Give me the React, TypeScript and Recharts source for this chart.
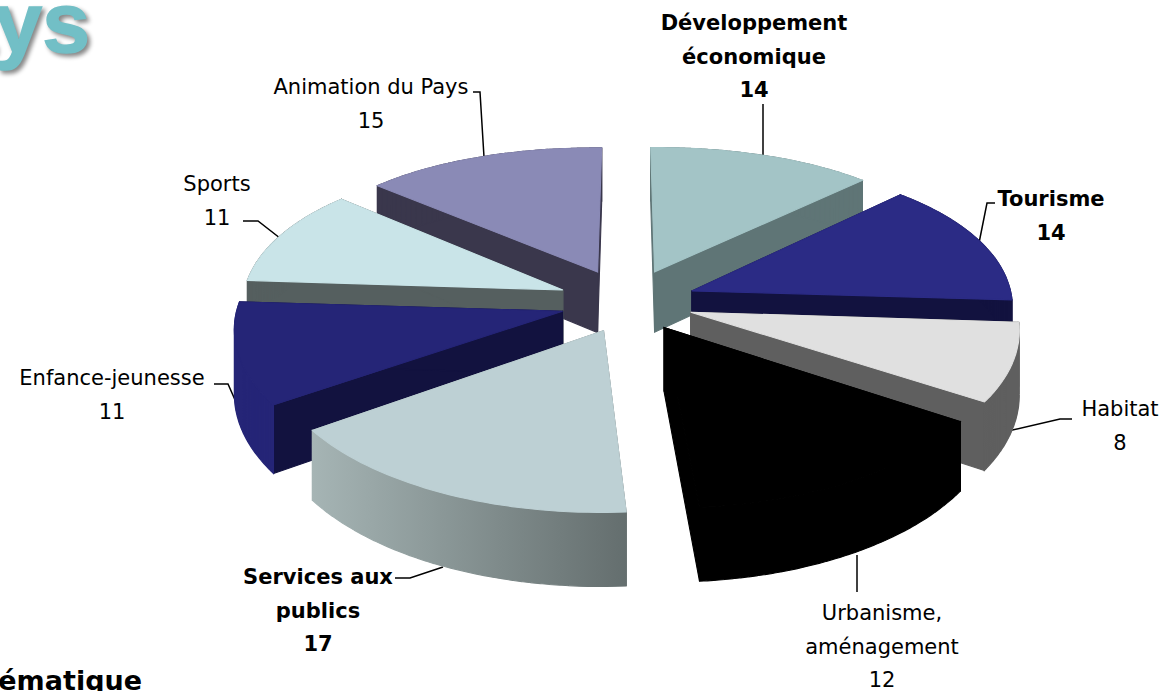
import React from 'react';
import { PieChart, Pie } from 'recharts';

// Valeurs par thématique
const categories = ['Développement économique', 'Tourisme', 'Habitat', 'Urbanisme, aménagement', 'Services aux publics', 'Enfance-jeunesse', 'Sports', 'Animation du Pays'];
const values = [14, 14, 8, 12, 17, 11, 11, 15];
const labelLines = [['Développement', 'économique'], ['Tourisme'], ['Habitat'], ['Urbanisme,', 'aménagement'], ['Services aux', 'publics'], ['Enfance-jeunesse'], ['Sports'], ['Animation du Pays']];

const data = categories.map((name, i) => ({ name, value: values[i] }));

// Back slices are painted first
const PAINT_ORDER = [7, 0, 6, 1, 5, 2, 3, 4];

const TOP = ['#a3c4c6', '#2b2b85', '#e0e0e0', '#000000', '#bdd0d4', '#252577', '#c9e4e8', '#8a8ab6'];
const SIDE = ['#5f7576', '#12123f', '#5f5f5f', '#000000', 'url(#servicesWall)', '#12123f', '#555f5f', '#3a374c'];
const RIM = ['#5f7576', '#12123f', '#5f5f5f', '#000000', 'url(#servicesWall)', '#252577', '#555f5f', '#3a374c'];
const BOLD = [true, true, false, false, true, false, false, false];

const LABEL_POS = [
  { x: 754, y: 30 }, { x: 1051, y: 206 }, { x: 1120, y: 416 }, { x: 882, y: 620 },
  { x: 318, y: 584 }, { x: 112, y: 385 }, { x: 217, y: 191 }, { x: 371, y: 94 },
];
const LEADERS = [
  '763,104 763,155', '978,248 987,203 995,203', '1008,431 1060,419 1072,419', '857,555 857,592',
  '395,578 410,578 443,567', '214,384 228,384 247,427', '243,221 258,221 285,242', '473,92 480,92 484,157',
];

// drawing correction of the old 3D chart's perspective, in degrees, slice end
const END_NUDGE = [0, 0, 0, 6.6, 2, 0, 0, 0];

const EXPLODE = 0.215;
const PERSP_X = 0.17;
const PERSP_Y = 0.135;
const BOW = 10;
const Y_RADIUS = 148;
const DEPTH = 62;
const LINE_H = 33.5;
const LABEL_FONT = '"DejaVu Sans", sans-serif';

const toPath = (pts: number[][]) => pts.map((p, i) => `${i ? 'L' : 'M'}${p[0].toFixed(1)},${p[1].toFixed(1)}`).join('') + 'Z';

const Slice3D = (props: any, k: number) => {
  const { cx, cy, outerRadius, startAngle, endAngle } = props;
  const rad = Math.PI / 180;
  const raw0 = 90 - startAngle;
  const raw1 = 90 - endAngle;
  const mid = ((raw0 + raw1) / 2) * rad;
  const a0 = (raw0 + END_NUDGE[(k + 7) % 8]) * rad;
  const a1 = (raw1 + END_NUDGE[k]) * rad;
  const project = (u: number, v: number) => ({
    x: cx + (outerRadius * u) / (1 + PERSP_X * v),
    y: cy - (Y_RADIUS * v) / (1 + PERSP_Y * v) - BOW * u * u,
    h: DEPTH / (1 + PERSP_Y * v),
  });
  const point = (r: number, a: number) => project(EXPLODE * Math.sin(mid) + r * Math.sin(a), EXPLODE * Math.cos(mid) + r * Math.cos(a));

  const rim = [];
  for (let s = 0; s <= 40; s++) rim.push(point(1, a0 + ((a1 - a0) * s) / 40));
  const apex = point(0, 0);
  const first = rim[0];
  const last = rim[rim.length - 1];
  const up = (p: any) => [p.x, p.y];
  const down = (p: any) => [p.x, p.y + p.h];
  const face = (d: string, fill: string) => <path d={d} fill={fill} stroke={fill} strokeWidth={1.1} />;

  // outer wall as quads all wound the same way, so the bulge at the sides does not cancel out
  const wall = rim.slice(1).map((p, i) => {
    const q = rim[i];
    return p.x < q.x ? toPath([up(q), up(p), down(p), down(q)]) : toPath([up(p), up(q), down(q), down(p)]);
  }).join('');

  return (
    <g>
      {face(toPath([up(apex), up(first), down(first), down(apex)]), SIDE[k])}
      {face(toPath([up(apex), up(last), down(last), down(apex)]), SIDE[k])}
      {face(wall, RIM[k])}
      {face(toPath([up(apex), ...rim.map(up)]), TOP[k])}
    </g>
  );
};

export default function App() {
  return (
    <div style={{ position: 'absolute', left: 0, top: 0, width: 1167, height: 691, background: '#fff', overflow: 'hidden' }}>
      <PieChart width={1167} height={691} margin={{ top: 0, right: 0, bottom: 0, left: 0 }}>
        <defs>
          <linearGradient id="servicesWall" gradientUnits="userSpaceOnUse" x1="310" y1="0" x2="627" y2="0">
            <stop offset="0%" stopColor="#a6b5b5" />
            <stop offset="100%" stopColor="#646e6e" />
          </linearGradient>
        </defs>
        <text x={90} y={52} textAnchor="end" fontFamily='"Liberation Sans", sans-serif' fontWeight="bold" fontSize={86} fill="#72bfc6" stroke="#72bfc6" strokeWidth={1.5} style={{ filter: 'drop-shadow(3px 3px 2px #888)' }}>Pays</text>
        <text x={142} y={690} textAnchor="end" fontFamily={LABEL_FONT} fontWeight="bold" fontSize={27} fill="#000">Thématique</text>
        {PAINT_ORDER.map((k) => (
          <Pie
            key={k}
            data={data}
            dataKey="value"
            nameKey="name"
            cx={627}
            cy={300}
            outerRadius={317}
            startAngle={90}
            endAngle={-270}
            stroke="none"
            isAnimationActive={false}
            rootTabIndex={-1}
            shape={(p: any, i: number) => ((p.index ?? i) === k ? Slice3D(p, k) : <g />)}
          />
        ))}
        {LEADERS.map((pts, i) => (
          <polyline key={i} points={pts} fill="none" stroke="#000" strokeWidth={1.5} />
        ))}
        {categories.map((_, i) => (
          <text key={i} textAnchor="middle" fontFamily={LABEL_FONT} fontSize={21} fontWeight={BOLD[i] ? 'bold' : 'normal'} fill="#000">
            {[...labelLines[i], String(values[i])].map((line, j) => (
              <tspan key={j} x={LABEL_POS[i].x} y={LABEL_POS[i].y + j * LINE_H}>{line}</tspan>
            ))}
          </text>
        ))}
      </PieChart>
    </div>
  );
}
